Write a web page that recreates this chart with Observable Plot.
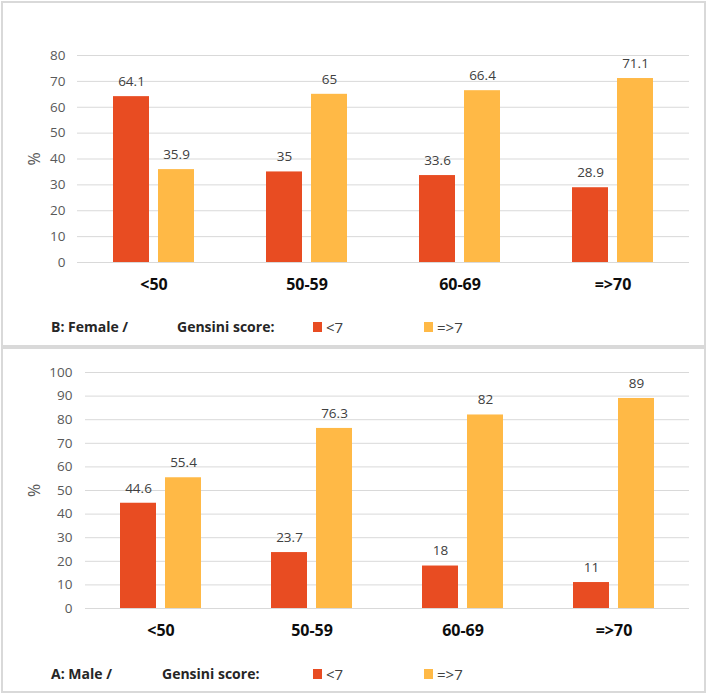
<!DOCTYPE html>
<html>
<head>
<meta charset="utf-8">
<script src="https://cdn.jsdelivr.net/npm/d3@7"></script>
<script src="https://cdn.jsdelivr.net/npm/@observablehq/plot@0.6"></script>
<style>
  html, body { margin: 0; padding: 0; background: #fff; }
  body { width: 709px; height: 695px; position: relative; overflow: hidden; font-family: "Open Sans", sans-serif; }
  .box { position: absolute; left: 1px; width: 701px; height: 342px; border: 2px solid #d9d9d9; box-sizing: content-box; }
  .chart { position: absolute; left: 0; }
  .legend { position: absolute; left: 0; width: 709px; height: 20px; font-size: 14px; font-weight: 700; color: #262626; }
  .legend span { position: absolute; top: 0; line-height: 20px; white-space: nowrap; }
  .legend span.v { font-weight: 400; font-size: 15px; color: #404040; }
  .legend i { position: absolute; top: 5px; width: 9px; height: 10px; display: block; }
</style>
</head>
<body>
<div class="box" style="top:1px"></div>
<div class="box" style="top:347px"></div>
<div id="top" class="chart" style="top:0px"></div>
<div id="bottom" class="chart" style="top:340px"></div>
<div id="legTop" class="legend" style="top:317px"></div>
<div id="legBottom" class="legend" style="top:664px"></div>
<script>
const ageGroups = ["<50", "50-59", "60-69", "=>70"];
const scoreGroups = ["<7", "=>7"];
const colors = ["#E84C22", "#FFB946"];

const femaleLow = [64.1, 35, 33.6, 28.9];
const femaleHigh = [35.9, 65, 66.4, 71.1];
const maleLow = [44.6, 23.7, 18, 11];
const maleHigh = [55.4, 76.3, 82, 89];

const femaleTicks = [0, 10, 20, 30, 40, 50, 60, 70, 80];
const maleTicks = [0, 10, 20, 30, 40, 50, 60, 70, 80, 90, 100];

const panelTitles = ["B: Female /", "A: Male /"];
const legendTitle = "Gensini score:";

function rows(low, high) {
  return ageGroups.flatMap((a, i) => [
    {age: a, score: scoreGroups[0], value: low[i]},
    {age: a, score: scoreGroups[1], value: high[i]}
  ]);
}

function panel(low, high, ticks, opts) {
  const data = rows(low, high);
  return Plot.plot({
    width: 709,
    height: 300,
    marginLeft: opts.marginLeft,
    marginRight: 19,
    marginTop: opts.marginTop,
    marginBottom: opts.marginBottom,
    style: {fontFamily: "'Open Sans', sans-serif", background: "transparent", overflow: "visible"},
    fx: {domain: ageGroups, padding: 0, label: null},
    x: {domain: scoreGroups, paddingInner: 0.21, paddingOuter: 0.78, axis: null},
    y: {domain: [0, ticks[ticks.length - 1]], label: "%"},
    color: {domain: scoreGroups, range: colors},
    marks: [
      Plot.gridY(ticks, {stroke: "#d9d9d9", strokeOpacity: 1, strokeWidth: 1}),
      Plot.barY(data, {fx: "age", x: "score", y: "value", fill: "score"}),
      Plot.text(data, {fx: "age", x: "score", y: "value", text: d => String(d.value), dy: -15, fill: "#404040", fontSize: 13.5}),
      Plot.axisY(ticks, {tickSize: 0, tickPadding: opts.tickPadding, fontSize: 13.5, fill: "#595959", label: null}),
      Plot.axisY([], {tickSize: 0, fontSize: 16, fill: "#595959", label: "%", labelAnchor: "center", labelArrow: "none", labelOffset: opts.labelOffset}),
      Plot.axisFx({anchor: "bottom", tickSize: 0, tickPadding: 16, fontSize: 16, fontWeight: "bold", fill: "#0d0d0d", label: null})
    ]
  });
}

document.getElementById("top").append(panel(femaleLow, femaleHigh, femaleTicks, {marginLeft: 76, marginTop: 55, marginBottom: 38, tickPadding: 12, labelOffset: 49}));
document.getElementById("bottom").append(panel(maleLow, maleHigh, maleTicks, {marginLeft: 84, marginTop: 32, marginBottom: 32, tickPadding: 13, labelOffset: 57}));

function legend(el, title, titleX) {
  const root = document.getElementById(el);
  const add = (text, x, cls) => { const s = document.createElement("span"); s.textContent = text; s.style.left = x + "px"; if (cls) s.className = cls; root.append(s); };
  add(title, 51);
  add(legendTitle, titleX);
  const swX = [313, 424];
  scoreGroups.forEach((g, i) => {
    const sw = document.createElement("i");
    sw.style.left = swX[i] + "px";
    sw.style.background = colors[i];
    root.append(sw);
    add(g, swX[i] + 13, "v");
  });
}
legend("legTop", panelTitles[0], 177);
legend("legBottom", panelTitles[1], 162);
</script>
</body>
</html>
